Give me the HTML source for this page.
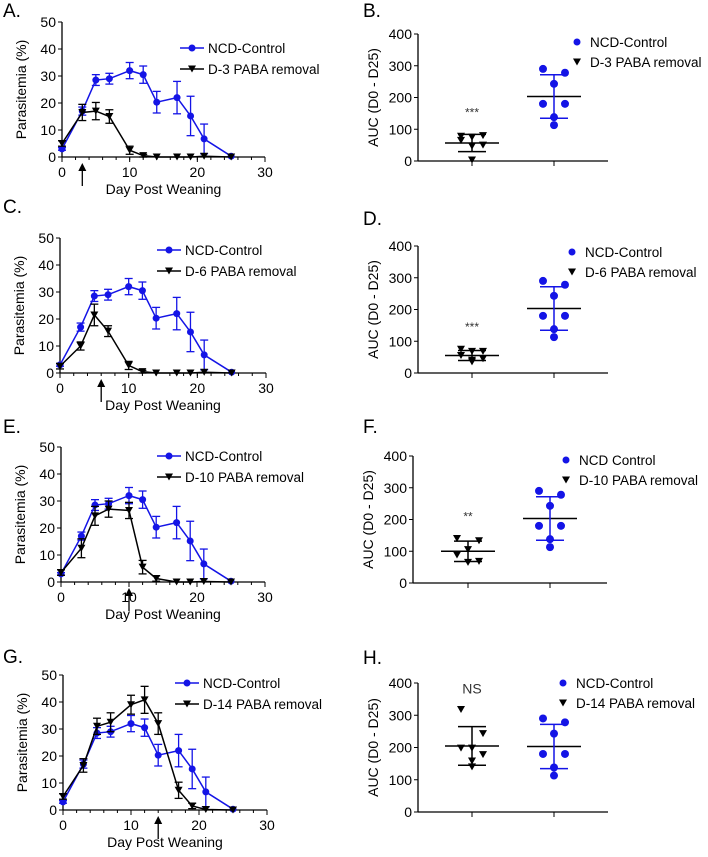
<!DOCTYPE html>
<html><head><meta charset="utf-8"><style>
body{margin:0;background:#fff;}
svg{display:block;font-family:"Liberation Sans",Arial,sans-serif;}
</style></head><body>
<svg id="fig" width="708" height="857" viewBox="0 0 708 857" xmlns="http://www.w3.org/2000/svg"></svg>
<script>
const days = [0,3,5,7,10,12,14,17,19,21,25];
const ctrlMean = [3,17,28.5,29,32,30.5,20.3,22,15.2,6.7,0.3];
const ctrlErr = [0.5,1.5,2,2,3,3.2,4,6,7.3,5.5,0.3];
const d3Mean = [5,16.5,17,15,2.5,0.5,0,0,0,0.3,0];
const d3Err = [1,3,3.2,2.5,1.5,0.5,0,0,0,0.3,0];
const d6Mean = [2.5,10,21.5,15.5,2.8,0.5,0,0,0,0.3,0];
const d6Err = [1,1.5,4,2,1.5,0.5,0,0,0,0.3,0];
const d10Mean = [3.5,12.5,24.5,27,26.5,5.5,1.3,0,0,0.2,0];
const d10Err = [1,3.5,3.5,3,3,2.5,1,0,0,0.2,0];
const d14Mean = [5,16.5,31,32.5,39,40.8,32,7.3,1.5,0.2,0];
const d14Err = [1,2.5,3,3.5,3.5,5,4,3,1,0.2,0];
const lineYTicks = [0,10,20,30,40,50];
const lineXTicks = [0,10,20,30];
const aucCtrl = [290,278,243,180,180,138,113];
const aucD3 = [78,80,75,65,50,47,3];
const aucD6 = [75,68,68,55,45,40,35];
const aucD10 = [140,133,105,88,68,65];
const aucD14 = [318,243,198,198,178,158,140];
const aucYTicks = [0,100,200,300,400];

const NS='http://www.w3.org/2000/svg';
const svg=document.getElementById('fig');
function el(tag,attrs,parent,text){const e=document.createElementNS(NS,tag);for(const k in attrs)e.setAttribute(k,attrs[k]);if(text!==undefined)e.textContent=text;(parent||svg).appendChild(e);return e;}
function mean(a){return a.reduce((s,v)=>s+v,0)/a.length;}
function sd(a){const m=mean(a);return Math.sqrt(a.reduce((s,v)=>s+(v-m)*(v-m),0)/(a.length-1));}
function tri(g,x,y,c){el('path',{d:`M${x-4},${y-3.5}L${x+4},${y-3.5}L${x},${y+3.5}Z`,fill:c},g);}

function linePanel(o){
  const g=el('g',{});
  
  
  const X=d=>o.x0+d*(o.x1-o.x0)/30, Y=v=>o.y0-v*(o.y0-o.y50)/50;
  const lt=el('text',{x:o.lx,y:o.ly,'font-size':19,fill:'#000'},g,o.letter);
  
  el('line',{x1:o.x0,y1:o.y50,x2:o.x0,y2:o.y0,stroke:'#000','stroke-width':1.3},g);
  el('line',{x1:o.x0,y1:o.y0,x2:o.x1,y2:o.y0,stroke:'#000','stroke-width':1.3},g);
  lineYTicks.forEach(t=>{el('line',{x1:o.x0-4,x2:o.x0,y1:Y(t),y2:Y(t),stroke:'#000'},g);
    const tx=el('text',{x:o.x0-6,y:Y(t)+5,'font-size':14,'text-anchor':'end'},g,t);
    });
  for(let d=0;d<=30;d+=2){el('line',{x1:X(d),x2:X(d),y1:o.y0,y2:o.y0+3,stroke:'#000'},g);}
  lineXTicks.forEach(t=>{el('line',{x1:X(t),x2:X(t),y1:o.y0,y2:o.y0+5,stroke:'#000'},g);
    const tx=el('text',{x:X(t),y:o.y0+20,'font-size':14,'text-anchor':'middle'},g,t);
    });
  const yt=el('text',{transform:`translate(${o.x0-36},${(o.y0+o.y50)/2}) rotate(-90)`,'font-size':14,'text-anchor':'middle'},g,'Parasitemia  (%)');
  
  const xt=el('text',{x:X(15),y:o.y0+37,'font-size':14,'text-anchor':'middle'},g,'Day Post Weaning');
  
  const ax=X(o.arrow);
  el('line',{x1:ax,x2:ax,y1:o.y0+29,y2:o.y0+12,stroke:'#000','stroke-width':1.3},g);
  const ar=el('path',{d:`M${ax-4},${o.y0+14}L${ax+4},${o.y0+14}L${ax},${o.y0+6}Z`,fill:'#000'},g);
  
  function series(m,e,c,marker,nm){
    const sg=el('g',{},g);
    el('polyline',{points:days.map((d,i)=>X(d)+','+Y(m[i])).join(' '),fill:'none',stroke:c,'stroke-width':1.5},sg);
    days.forEach((d,i)=>{if(e[i]>0.4){const x=X(d);
      el('line',{x1:x,x2:x,y1:Y(m[i]+e[i]),y2:Y(m[i]-e[i]),stroke:c,'stroke-width':1.3},sg);
      el('line',{x1:x-4,x2:x+4,y1:Y(m[i]+e[i]),y2:Y(m[i]+e[i]),stroke:c,'stroke-width':1.3},sg);
      el('line',{x1:x-4,x2:x+4,y1:Y(m[i]-e[i]),y2:Y(m[i]-e[i]),stroke:c,'stroke-width':1.3},sg);}
      if(marker==='c')el('circle',{cx:X(d),cy:Y(m[i]),r:3.5,fill:c},sg);else tri(sg,X(d),Y(m[i]),c);});
  }
  series(ctrlMean,ctrlErr,'#1414e6','c','control-series');
  series(o.m,o.e,'#000','t','treatment-series');
  const lg=el('g',{},g);
  el('line',{x1:o.legx,x2:o.legx+24,y1:o.legy,y2:o.legy,stroke:'#1414e6','stroke-width':1.5},lg);
  el('circle',{cx:o.legx+12,cy:o.legy,r:3.5,fill:'#1414e6'},lg);
  el('text',{x:o.legx+28,y:o.legy+5,'font-size':13.5},lg,'NCD-Control');
  el('line',{x1:o.legx,x2:o.legx+24,y1:o.legy+21,y2:o.legy+21,stroke:'#000','stroke-width':1.5},lg);
  tri(lg,o.legx+12,o.legy+21,'#000');
  el('text',{x:o.legx+28,y:o.legy+26,'font-size':13.5},lg,o.label);
}

function aucPanel(o){
  const g=el('g',{});
  
  
  const Y=v=>o.y0-v*(o.y0-o.y400)/400;
  const lt=el('text',{x:o.lx,y:o.ly,'font-size':19},g,o.letter);
  
  el('line',{x1:o.x0,y1:o.y400,x2:o.x0,y2:o.y0,stroke:'#000','stroke-width':1.3},g);
  el('line',{x1:o.x0,y1:o.y0,x2:o.x1,y2:o.y0,stroke:'#000','stroke-width':1.3},g);
  aucYTicks.forEach(t=>{el('line',{x1:o.x0-4,x2:o.x0,y1:Y(t),y2:Y(t),stroke:'#000'},g);
    const tx=el('text',{x:o.x0-6,y:Y(t)+5,'font-size':14,'text-anchor':'end'},g,t);
    });
  [o.c1,o.c2].forEach(c=>el('line',{x1:c,x2:c,y1:o.y0,y2:o.y0+5,stroke:'#000'},g));
  const yt=el('text',{transform:`translate(${o.x0-40},${(o.y0+o.y400)/2}) rotate(-90)`,'font-size':14,'text-anchor':'middle'},g,'AUC (D0 - D25)');
  
  const offs=[-11,11,0,-11,11,0,0,-11,11];
  function grp(vals,cx,c,marker,nm){
    const sg=el('g',{},g);
    const m=mean(vals),s=sd(vals);
    el('line',{x1:cx-27,x2:cx+27,y1:Y(m),y2:Y(m),stroke:'#000','stroke-width':1.5},sg);
    el('line',{x1:cx,x2:cx,y1:Y(m+s),y2:Y(m-s),stroke:c,'stroke-width':1.5},sg);
    el('line',{x1:cx-14,x2:cx+14,y1:Y(m+s),y2:Y(m+s),stroke:c,'stroke-width':1.5},sg);
    el('line',{x1:cx-14,x2:cx+14,y1:Y(m-s),y2:Y(m-s),stroke:c,'stroke-width':1.5},sg);
    vals.forEach((v,i)=>{const x=cx+offs[i];if(marker==='c')el('circle',{cx:x,cy:Y(v),r:4,fill:c},sg);else tri(sg,x,Y(v),c);});
    return m+s;
  }
  const top=grp(o.vals,o.c1,'#000','t','treatment-group');
  grp(aucCtrl,o.c2,'#1414e6','c','control-group');
  const st=el('text',{x:o.c1,y:Y(Math.max(top,...o.vals))-(o.sig==='NS'?16:18),'font-size':o.sig==='NS'?14:12,'text-anchor':'middle',fill:'#333'},g,o.sig);
  
  const lg=el('g',{},g);
  el('circle',{cx:o.legx,cy:o.legy,r:3.5,fill:'#1414e6'},lg);
  el('text',{x:o.legx+13,y:o.legy+5,'font-size':13.5},lg,o.ctrlLabel);
  tri(lg,o.legx,o.legy+20,'#000');
  el('text',{x:o.legx+13,y:o.legy+25,'font-size':13.5},lg,o.label);
}

linePanel({name:'panel-a-parasitemia',letter:'A.',lx:3,ly:17,x0:62,x1:265,y0:157,y50:22,m:d3Mean,e:d3Err,arrow:3,legx:180,legy:48,label:'D-3 PABA removal'});
linePanel({name:'panel-c-parasitemia',letter:'C.',lx:3,ly:213,x0:60,x1:266,y0:373,y50:238,m:d6Mean,e:d6Err,arrow:6,legx:157,legy:250,label:'D-6 PABA removal'});
linePanel({name:'panel-e-parasitemia',letter:'E.',lx:3,ly:433,x0:61,x1:265,y0:582,y50:447,m:d10Mean,e:d10Err,arrow:10,legx:157,legy:456,label:'D-10 PABA removal'});
linePanel({name:'panel-g-parasitemia',letter:'G.',lx:3,ly:663,x0:63,x1:267,y0:810,y50:675,m:d14Mean,e:d14Err,arrow:14,legx:175,legy:683,label:'D-14 PABA removal'});
aucPanel({name:'panel-b-auc',letter:'B.',lx:363,ly:17,x0:418,x1:608,y0:161,y400:34,c1:472,c2:554,vals:aucD3,sig:'***',legx:577,legy:42,ctrlLabel:'NCD-Control',label:'D-3 PABA removal'});
aucPanel({name:'panel-d-auc',letter:'D.',lx:363,ly:225,x0:418,x1:608,y0:373,y400:246,c1:472,c2:554,vals:aucD6,sig:'***',legx:572,legy:252,ctrlLabel:'NCD-Control',label:'D-6 PABA removal'});
aucPanel({name:'panel-f-auc',letter:'F.',lx:363,ly:433,x0:413,x1:607,y0:583,y400:456,c1:468,c2:550,vals:aucD10,sig:'**',legx:566,legy:460,ctrlLabel:'NCD Control',label:'D-10 PABA removal'});
aucPanel({name:'panel-h-auc',letter:'H.',lx:363,ly:664,x0:418,x1:608,y0:812,y400:683,c1:472,c2:554,vals:aucD14,sig:'NS',legx:563,legy:683,ctrlLabel:'NCD-Control',label:'D-14 PABA removal'});
</script>
</body></html>
